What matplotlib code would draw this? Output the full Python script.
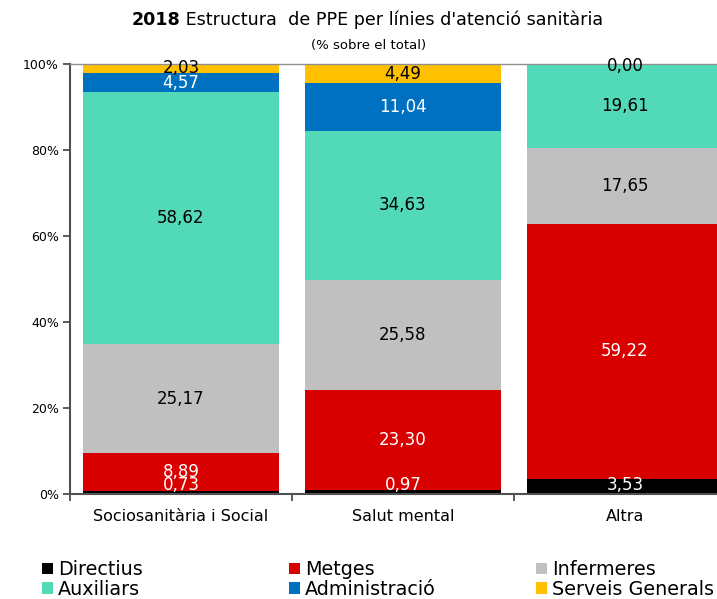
import matplotlib
matplotlib.use("Agg")
import matplotlib.pyplot as plt
from matplotlib.patches import Patch
import numpy as np

categories = ["Sociosanitària i Social", "Salut mental", "Altra"]
series_names = ["Directius", "Metges", "Infermeres", "Auxiliars", "Administració", "Serveis Generals"]
directius = [0.73, 0.97, 3.53]
metges = [8.89, 23.30, 59.22]
infermeres = [25.17, 25.58, 17.65]
auxiliars = [58.62, 34.63, 19.61]
administracio = [4.57, 11.04, 0.00]
serveis = [2.03, 4.49, 0.00]
yticks = [0, 20, 40, 60, 80, 100]
ytick_labels = ["0%", "20%", "40%", "60%", "80%", "100%"]

series = [directius, metges, infermeres, auxiliars, administracio, serveis]
colors = ["#000000", "#D90000", "#C0C0C0", "#52D9B8", "#0070C0", "#FFC000"]
label_colors = ["white", "white", "black", "black", "white", "black"]

plt.rcParams['font.family'] = ['DejaVu Sans']
fig = plt.figure(figsize=(7.17, 5.99), dpi=100)
ax = fig.add_axes([70/717, 1-494/599, 666/717, 430/599])

x = np.arange(len(categories))
bottom = np.zeros(len(categories))
for vals, col, lc, name in zip(series, colors, label_colors, series_names):
    v = np.array(vals)
    ax.bar(x, v, bottom=bottom, width=0.885, color=col, label=name, zorder=2)
    for xi, vi, bi in zip(x, v, bottom):
        if name == "Administració" and vi == 0:
            continue
        ypos = max(bi + vi/2, 2.0)
        if bi + vi/2 > 99.5:
            ypos = 99.6
        ax.text(xi, ypos, f"{vi:.2f}".replace(".", ","), ha='center', va='center',
                color=lc, fontsize=12, zorder=3)
    bottom += v

ax.set_xlim(-0.5, 2.5)
ax.set_ylim(0, 100)
ax.set_yticks(yticks)
ax.set_yticklabels(ytick_labels, fontsize=9)
ax.set_xticks(x)
ax.set_xticklabels(categories, fontsize=11.5)
ax.set_xticks([-0.5, 0.5, 1.5, 2.5], minor=True)
ax.tick_params(axis='x', which='major', length=0, pad=11)
ax.tick_params(axis='x', which='minor', length=5, width=1.2, color="#404040")
ax.tick_params(axis='y', length=5, width=1.2, color="#404040", pad=3)
for s in ['left', 'bottom']:
    ax.spines[s].set_color("#505050")
    ax.spines[s].set_linewidth(1.5)
for s in ['top', 'right']:
    ax.spines[s].set_color("#909090")
    ax.spines[s].set_linewidth(1.0)

# Title with bold year
ty = 1 - 20/599
t1 = fig.text(0, ty, "2018", fontsize=12.6, fontweight='bold', va='center', ha='left')
t2 = fig.text(0, ty, " Estructura  de PPE per línies d'atenció sanitària", fontsize=12.6, va='center', ha='left')
fig.canvas.draw()
r = fig.canvas.get_renderer()
w1 = t1.get_window_extent(r).width
w2 = t2.get_window_extent(r).width
cx = 367.5
start = cx - (w1 + w2)/2
t1.set_x(start/717)
t2.set_x((start + w1)/717)
fig.text(369/717, 1-45/599, "(% sobre el total)", fontsize=9.5, ha='center', va='center')

handles = [Patch(facecolor=c, edgecolor='none') for c in colors]
cols_x = [42/717, 289/717, 536/717]
for i, cxp in enumerate(cols_x):
    fig.legend([handles[i], handles[i+3]], [series_names[i], series_names[i+3]],
               loc='center left', bbox_to_anchor=(cxp, 1-579.5/599), frameon=False,
               fontsize=13.8, handlelength=0.55, handleheight=0.55, handletextpad=0.3,
               labelspacing=0.02, borderpad=0, borderaxespad=0)

fig.savefig("out.png", dpi=100)
